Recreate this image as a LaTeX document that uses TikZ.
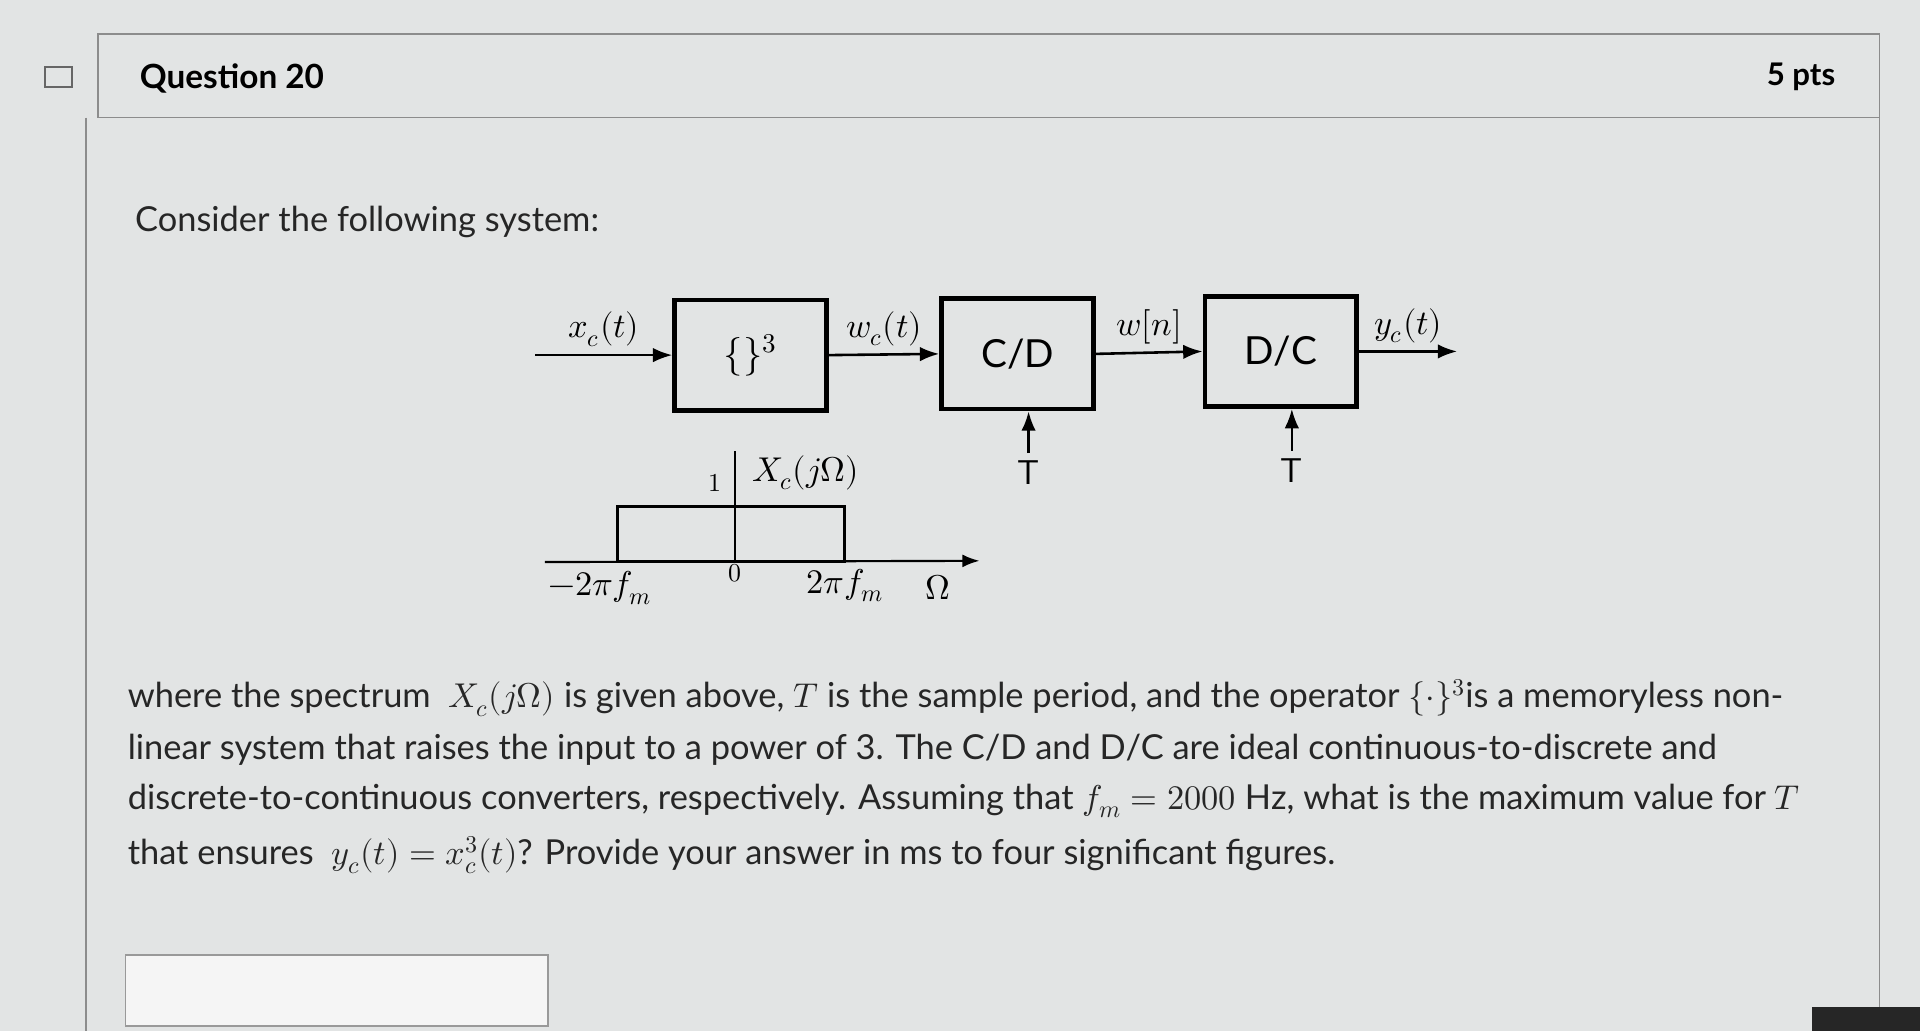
\documentclass[tikz,border=0pt]{standalone}
\usepackage{fontspec}
\setmainfont{Lato}
\usepackage{unicode-math}
\setmathfont{Latin Modern Math}
\usetikzlibrary{arrows.meta}
\definecolor{bg}{RGB}{226,228,228}
\begin{document}
\begin{tikzpicture}[x=0.02cm,y=-0.02cm,
 blk/.style={draw,line width=2.2pt,minimum width=124*0.02cm,minimum height=90*0.02cm,font=\fontsize{18}{20}\selectfont},
 sig/.style={-{Latex[length=9pt]},line width=1.2pt},
 lbl/.style={font=\fontsize{16}{18}\selectfont},
 txt/.style={anchor=west,font=\fontsize{16}{18}\selectfont,text=black!85,inner sep=0pt}]
\useasboundingbox (0,0) rectangle (1568,842);
\fill[bg] (0,0) rectangle (1568,842);
\fill[black!85] (1480,822) rectangle (1568,842);
\draw[black!45,line width=0.8pt] (80,28) -- (1535,28) -- (1535,96) -- (80,96) -- cycle;
\draw[black!45,line width=0.8pt] (70,96) -- (70,842) (1535,96) -- (1535,822);
\node (ico) [draw=black!60,line width=1pt,minimum width=22*0.02cm,minimum height=16*0.02cm] at (48,63) {};
\node (q) [anchor=west,font=\fontsize{15.5}{18}\selectfont\bfseries] at (108,64) {Question 20};
\node (p) [anchor=east,font=\fontsize{14.5}{18}\selectfont\bfseries] at (1505,63) {5 pts};
\node (c) [txt] at (110,181) {Consider the following system:};
% blocks
\node (b1) [blk] at (613,290) {$\{\}^3$};
\node (b2) [blk] at (831,289) {C/D};
\node (b3) [blk] at (1046,287) {D/C};
\coordinate (in) at (437,290);
\coordinate (out) at (1190,287);
\draw[sig] (in) -- (b1.west) node[midway,above,lbl] {$x_c(t)$};
\draw[sig] (b1.east) -- (b2.west) node[midway,above,lbl] {$w_c(t)$};
\draw[sig] (b2.east) -- (b3.west) node[midway,above,lbl] {$w[n]$};
\draw[sig] (b3.east) -- (out) node[midway,above,lbl] {$y_c(t)$};
\node (t1) [lbl,font=\fontsize{16}{18}\selectfont\sffamily] at (840,386) {T};
\node (t2) [lbl,font=\fontsize{16}{18}\selectfont\sffamily] at (1055,384) {T};
\draw[sig] (t1.north) -- (t1.north |- b2.south);
\draw[sig] (t2.north) -- (t2.north |- b3.south);
% spectrum
\coordinate (xa0) at (445,459);
\coordinate (xa1) at (800,458);
\coordinate (ya0) at (600,459);
\coordinate (ya1) at (600,368);
\draw[-{Latex[length=8pt]},line width=1pt] (xa0) -- (xa1);
\draw[line width=1pt] (ya0) -- (ya1);
\node (rect) [draw,line width=1.6pt,minimum width=185*0.02cm,minimum height=45*0.02cm] at (597,436) {};
\node (one) [font=\fontsize{12}{14}\selectfont] at (584,394) {$1$};
\node (X) [lbl] at (658,386) {$X_c(j\Omega)$};
\node (m) [lbl] at (490,480) {$-2\pi f_m$};
\node (z) [font=\fontsize{12}{14}\selectfont] at (600,468) {$0$};
\node (pf) [lbl] at (690,478) {$2\pi f_m$};
\node (om) [lbl] at (766,480) {$\Omega$};
% paragraph
\node (l1) [txt] at (104,570) {where the spectrum \ $X_c(j\Omega)$ is given above, $T$ is the sample period, and the operator $\{\cdot\}^3$is a memoryless non-};
\node (l2) [txt] at (104,612) {linear system that raises the input to a power of 3. The C/D and D/C are ideal continuous-to-discrete and};
\node (l3) [txt] at (104,654) {discrete-to-continuous converters, respectively. Assuming that $f_m=2000\ \mathrm{Hz}$, what is the maximum value for $T$};
\node (l4) [txt] at (104,698) {that ensures \ $y_c(t)=x_c^3(t)$? Provide your answer in ms to four significant figures.};
\node (ans) [draw=black!40,line width=0.8pt,minimum width=345*0.02cm,minimum height=58*0.02cm,fill=black!4] at (275,809) {};
\end{tikzpicture}
\end{document}
